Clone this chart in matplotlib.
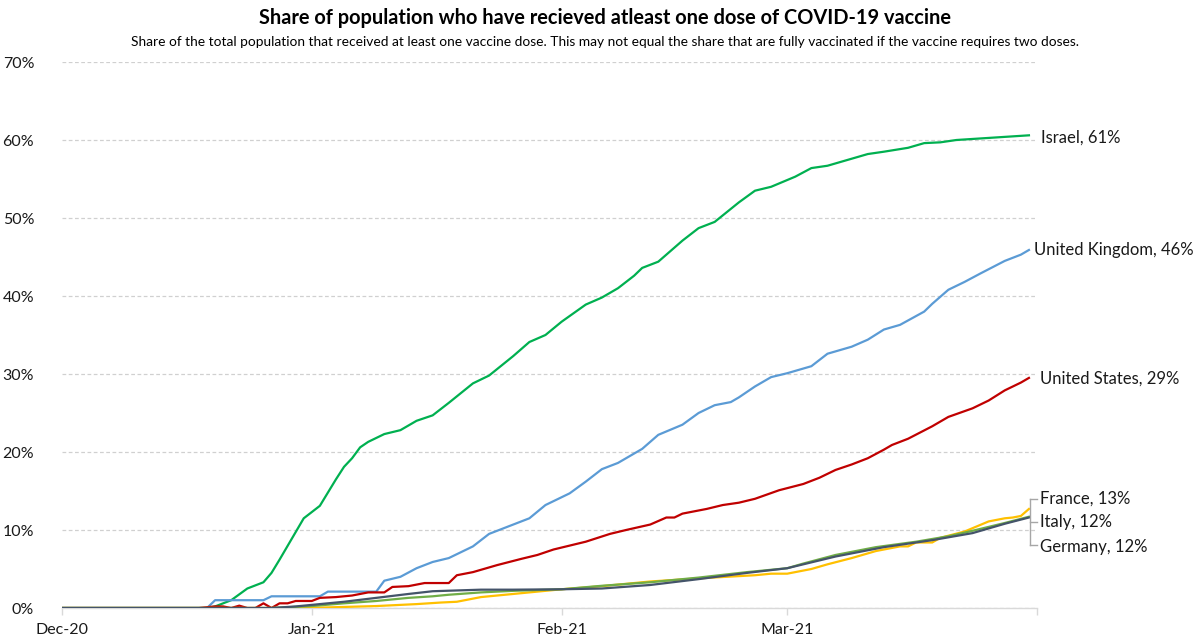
import matplotlib
matplotlib.use("Agg")
import matplotlib.pyplot as plt
import matplotlib.dates as mdates
from matplotlib.lines import Line2D
from datetime import datetime

plt.rcParams['font.family'] = ['Lato', 'DejaVu Sans']

# ---------------- data (share of population, %) ----------------
israel_dates = ["2020-12-01", "2020-12-19", "2020-12-20", "2020-12-22", "2020-12-24", "2020-12-26",
                "2020-12-27", "2020-12-28", "2020-12-31", "2021-01-02", "2021-01-04", "2021-01-05",
                "2021-01-06", "2021-01-07", "2021-01-08", "2021-01-10", "2021-01-12", "2021-01-14",
                "2021-01-16", "2021-01-18", "2021-01-21", "2021-01-23", "2021-01-26", "2021-01-28",
                "2021-01-30", "2021-02-01", "2021-02-04", "2021-02-06", "2021-02-08", "2021-02-10",
                "2021-02-11", "2021-02-13", "2021-02-16", "2021-02-18", "2021-02-20", "2021-02-23",
                "2021-02-25", "2021-02-27", "2021-03-02", "2021-03-04", "2021-03-06", "2021-03-09",
                "2021-03-11", "2021-03-13", "2021-03-16", "2021-03-18", "2021-03-20", "2021-03-22",
                "2021-03-25", "2021-03-28", "2021-03-31"]
israel_pct = [0, 0, 0.2, 1.0, 2.5, 3.3,
              4.5, 6.2, 11.5, 13.1, 16.5, 18.1,
              19.2, 20.6, 21.3, 22.3, 22.8, 24.0,
              24.7, 26.3, 28.8, 29.8, 32.3, 34.1,
              35.0, 36.7, 38.9, 39.8, 41.0, 42.6,
              43.6, 44.4, 47.1, 48.7, 49.5, 52.0,
              53.5, 54.0, 55.3, 56.4, 56.7, 57.6,
              58.2, 58.5, 59.0, 59.6, 59.7, 60.0,
              60.2, 60.4, 60.6]

uk_dates = ["2020-12-01", "2020-12-19", "2020-12-20", "2020-12-26", "2020-12-27", "2021-01-02",
            "2021-01-03", "2021-01-09", "2021-01-10", "2021-01-12", "2021-01-14", "2021-01-16",
            "2021-01-18", "2021-01-21", "2021-01-23", "2021-01-25", "2021-01-28", "2021-01-30",
            "2021-02-02", "2021-02-04", "2021-02-06", "2021-02-08", "2021-02-11", "2021-02-13",
            "2021-02-16", "2021-02-18", "2021-02-20", "2021-02-22", "2021-02-23", "2021-02-25",
            "2021-02-27", "2021-03-01", "2021-03-04", "2021-03-06", "2021-03-09", "2021-03-11",
            "2021-03-13", "2021-03-15", "2021-03-18", "2021-03-19", "2021-03-21", "2021-03-23",
            "2021-03-25", "2021-03-28", "2021-03-30", "2021-03-31"]
uk_pct = [0, 0, 1.0, 1.0, 1.5, 1.5,
          2.1, 2.1, 3.5, 4.0, 5.1, 5.9,
          6.4, 7.9, 9.5, 10.3, 11.5, 13.2,
          14.7, 16.2, 17.8, 18.6, 20.4, 22.2,
          23.5, 25.0, 26.0, 26.4, 27.0, 28.4,
          29.6, 30.1, 31.0, 32.6, 33.5, 34.4,
          35.7, 36.3, 38.0, 39.0, 40.8, 41.8,
          42.9, 44.5, 45.3, 45.9]

us_dates = ["2020-12-01", "2020-12-18", "2020-12-19", "2020-12-20", "2020-12-21", "2020-12-22",
            "2020-12-23", "2020-12-24", "2020-12-25", "2020-12-26", "2020-12-27", "2020-12-28",
            "2020-12-29", "2020-12-30", "2021-01-01", "2021-01-02", "2021-01-04", "2021-01-06",
            "2021-01-07", "2021-01-08", "2021-01-10", "2021-01-11", "2021-01-13", "2021-01-15",
            "2021-01-18", "2021-01-19", "2021-01-21", "2021-01-24", "2021-01-27", "2021-01-29",
            "2021-01-31", "2021-02-02", "2021-02-04", "2021-02-07", "2021-02-09", "2021-02-12",
            "2021-02-14", "2021-02-15", "2021-02-16", "2021-02-19", "2021-02-21", "2021-02-23",
            "2021-02-25", "2021-02-28", "2021-03-03", "2021-03-05", "2021-03-07", "2021-03-09",
            "2021-03-11", "2021-03-13", "2021-03-14", "2021-03-16", "2021-03-19", "2021-03-21",
            "2021-03-24", "2021-03-26", "2021-03-28", "2021-03-30", "2021-03-31"]
us_pct = [0, 0, 0.1, 0.2, 0.2, 0.0,
          0.3, 0.0, 0.0, 0.6, 0.0, 0.6,
          0.6, 0.9, 0.9, 1.3, 1.4, 1.6,
          1.8, 2.0, 2.0, 2.7, 2.8, 3.2,
          3.2, 4.2, 4.6, 5.5, 6.3, 6.8,
          7.5, 8.0, 8.5, 9.5, 10.0, 10.7,
          11.6, 11.6, 12.1, 12.7, 13.2, 13.5,
          14.0, 15.1, 15.9, 16.7, 17.7, 18.4,
          19.2, 20.3, 20.9, 21.7, 23.3, 24.5,
          25.6, 26.6, 27.9, 28.9, 29.5]

france_dates = ["2020-12-01", "2020-12-27", "2021-01-02", "2021-01-09", "2021-01-14", "2021-01-17",
                "2021-01-19", "2021-01-22", "2021-01-26", "2021-01-29", "2021-02-01", "2021-02-06",
                "2021-02-12", "2021-02-18", "2021-02-25", "2021-02-27", "2021-03-01", "2021-03-04",
                "2021-03-06", "2021-03-09", "2021-03-12", "2021-03-15", "2021-03-16", "2021-03-17",
                "2021-03-19", "2021-03-20", "2021-03-23", "2021-03-26", "2021-03-28", "2021-03-29",
                "2021-03-30", "2021-03-31"]
france_pct = [0, 0, 0.05, 0.25, 0.5, 0.7,
              0.8, 1.4, 1.8, 2.1, 2.4, 2.8,
              3.4, 3.8, 4.2, 4.4, 4.4, 5.0,
              5.6, 6.4, 7.3, 7.9, 7.9, 8.4,
              8.4, 9.0, 9.8, 11.1, 11.5, 11.6,
              11.8, 12.7]

italy_dates = ["2020-12-01", "2020-12-27", "2021-01-01", "2021-01-05", "2021-01-09", "2021-01-13",
               "2021-01-16", "2021-01-18", "2021-01-22", "2021-01-26", "2021-02-01", "2021-02-06",
               "2021-02-12", "2021-02-18", "2021-02-24", "2021-03-01", "2021-03-03", "2021-03-07",
               "2021-03-12", "2021-03-17", "2021-03-21", "2021-03-24", "2021-03-28", "2021-03-31"]
italy_pct = [0, 0, 0.25, 0.6, 0.9, 1.3,
             1.5, 1.7, 2.0, 2.2, 2.4, 2.85,
             3.3, 3.9, 4.6, 5.1, 5.7, 6.8,
             7.8, 8.5, 9.2, 9.9, 10.9, 11.7]

germany_dates = ["2020-12-01", "2020-12-27", "2020-12-30", "2021-01-02", "2021-01-05", "2021-01-09",
                 "2021-01-13", "2021-01-16", "2021-01-22", "2021-01-26", "2021-02-01", "2021-02-06",
                 "2021-02-12", "2021-02-18", "2021-02-24", "2021-03-01", "2021-03-07", "2021-03-13",
                 "2021-03-19", "2021-03-24", "2021-03-28", "2021-03-31"]
germany_pct = [0, 0, 0.2, 0.5, 0.8, 1.3,
               1.8, 2.15, 2.35, 2.35, 2.4, 2.5,
               2.95, 3.7, 4.5, 5.1, 6.6, 7.8,
               8.7, 9.6, 10.8, 11.6]

tick_dates = ["2020-12-01", "2021-01-01", "2021-02-01", "2021-03-01", "2021-04-01"]
tick_labels = ["Dec-20", "Jan-21", "Feb-21", "Mar-21", ""]
y_ticks = [0, 10, 20, 30, 40, 50, 60, 70]

series = [
    ("Israel", israel_dates, israel_pct, "#00B050", "Israel, 61%", (12, -2)),
    ("United Kingdom", uk_dates, uk_pct, "#5B9BD5", "United Kingdom, 46%", (5, 0)),
    ("United States", us_dates, us_pct, "#C00000", "United States, 29%", (11, -1)),
    ("France", france_dates, france_pct, "#FFC000", "France, 13%", (11, 10)),
    ("Italy", italy_dates, italy_pct, "#70AD47", "Italy, 12%", (11, -5)),
    ("Germany", germany_dates, germany_pct, "#44546A", "Germany, 12%", (11, -29)),
]

def to_dt(lst):
    return [datetime.strptime(s, "%Y-%m-%d") for s in lst]

W, H = 1203, 640
fig = plt.figure(figsize=(W / 100, H / 100), dpi=100)
ax = fig.add_axes([62 / W, 1 - 608 / H, (1037 - 62) / W, (608 - 62) / H])

for name, dts, vals, col, lab, off in series:
    x = to_dt(dts)
    ax.plot(x, vals, color=col, lw=1.6, solid_joinstyle="round", zorder=3)
    ax.annotate(lab, xy=(x[-1], vals[-1]), xytext=off, textcoords="offset pixels",
                ha="left", va="center", fontsize=12, color="#1a1a1a", annotation_clip=False)

tdt = to_dt(tick_dates)
ax.set_xlim(tdt[0], tdt[-1])
ax.set_ylim(0, 70)
ax.set_xticks(tdt)
ax.set_xticklabels(tick_labels)
ax.set_yticks(y_ticks)
ax.set_yticklabels([f"{v}%" for v in y_ticks])

for s in ["top", "right", "left"]:
    ax.spines[s].set_visible(False)
ax.spines["bottom"].set_color("#D9D9D9")
ax.spines["bottom"].set_linewidth(1.0)
ax.tick_params(axis="x", direction="out", length=5, color="#D9D9D9", width=1.0,
               labelsize=11.5, labelcolor="#1a1a1a", pad=6)
ax.tick_params(axis="y", length=0, labelsize=11.5, labelcolor="#1a1a1a", pad=20)
ax.yaxis.grid(True, color="#D0D0D0", linestyle=(0, (3, 2)), linewidth=0.9)
ax.set_axisbelow(True)

# bracket leader for the three European labels
bc = "#A6A6A6"
def fx(px): return px / W
def fy(py): return 1 - py / H
fig.add_artist(Line2D([fx(1030), fx(1030)], [fy(499), fy(545)], color=bc, lw=1))
for py in (499, 522, 545):
    fig.add_artist(Line2D([fx(1030), fx(1037)], [fy(py), fy(py)], color=bc, lw=1))

fig.text(605 / W, fy(18), "Share of population who have recieved atleast one dose of COVID-19 vaccine",
         ha="center", va="center", fontsize=14.4, fontweight="bold", color="#000000")
fig.text(605 / W, fy(42),
         "Share of the total population that received at least one vaccine dose. This may not equal the share that are fully vaccinated if the vaccine requires two doses.",
         ha="center", va="center", fontsize=9.9, color="#000000")

fig.savefig("out.png", dpi=100)
